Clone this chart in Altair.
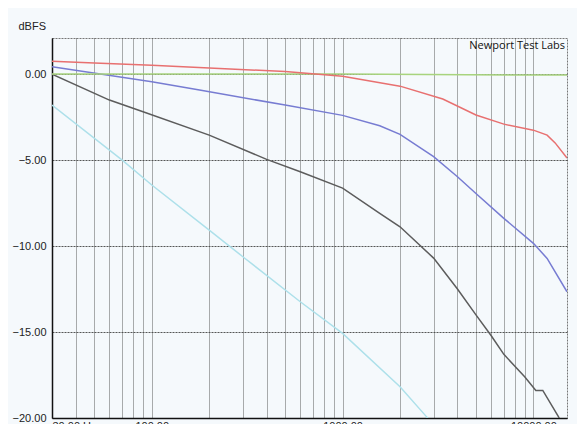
import altair as alt
import pandas as pd

# ---- data ----
red_f = [30, 50, 100, 200, 500, 1000, 2000, 3350, 5000, 7000, 10000, 11800, 13000, 15000]
red_db = [0.75, 0.64, 0.52, 0.35, 0.15, -0.12, -0.7, -1.45, -2.38, -2.91, -3.26, -3.55, -4.0, -4.88]

blue_f = [30, 100, 178, 500, 1000, 1566, 2000, 3000, 4000, 5000, 7000, 10000, 11800, 15000]
blue_db = [0.43, -0.45, -0.93, -1.8, -2.4, -3.0, -3.5, -4.8, -5.97, -6.94, -8.39, -9.84, -10.72, -12.66]

green_f = [30, 1000, 8000, 15000]
green_db = [0.0, 0.0, -0.05, -0.05]

black_f = [30, 60, 90, 200, 400, 600, 1000, 1566, 2000, 3000, 4000, 5000, 6000, 7000, 9000, 10300, 11200, 13500, 14200]
black_db = [0.0, -1.51, -2.19, -3.55, -4.96, -5.68, -6.63, -8.1, -8.88, -10.7, -12.5, -14.0, -15.2, -16.3, -17.6, -18.4, -18.4, -19.9, -20.4]

cyan_f = [30, 70, 100, 200, 300, 600, 1000, 2000, 2750, 3000]
cyan_db = [-1.8, -5.0, -6.45, -9.07, -10.62, -13.24, -15.08, -18.18, -19.92, -20.4]

series_names = ["cyan", "black", "blue", "green", "red"]
series_colors = ["#ade0ea", "#5c5c5c", "#777cd2", "#a8d47e", "#e87070"]

x_grid_values = [30, 40, 50, 60, 70, 80, 90,
                 100, 200, 300, 400, 500, 600, 700, 800, 900,
                 1000, 2000, 3000, 4000, 5000, 6000, 7000, 8000, 9000, 10000]
y_tick_values = [0, -5, -10, -15, -20]

rows = []
for name, fs, ds in [("cyan", cyan_f, cyan_db), ("black", black_f, black_db),
                     ("blue", blue_f, blue_db), ("green", green_f, green_db),
                     ("red", red_f, red_db)]:
    for i, (f, d) in enumerate(zip(fs, ds)):
        rows.append({"series": name, "freq": f, "db": d, "i": i})
df = pd.DataFrame(rows)

label_expr = ("datum.value == 30 ? '30.00 Hz' : "
              "(datum.value == 100 || datum.value == 1000 || datum.value == 10000) ? "
              "format(datum.value, '.2f') : ''")

chart = alt.Chart(df).mark_line(strokeWidth=1.5, clip=True).encode(
    x=alt.X("freq:Q",
            scale=alt.Scale(type="log", domain=[30, 15000], nice=False),
            axis=alt.Axis(values=x_grid_values, labelExpr=label_expr, title=None,
                          grid=True, ticks=False, labelFlush=True,
                          labelPadding=2, labelFontSize=11, labelColor="#222",
                          labelFont="Liberation Sans",
                          domainColor="#111", domainWidth=1.5,
                          gridColor="#4a4a4a", gridDash=[1, 1], gridOpacity=0.9)),
    y=alt.Y("db:Q",
            scale=alt.Scale(domain=[-20, 2.1], nice=False, zero=False),
            axis=alt.Axis(values=y_tick_values, format=".2f", title="dBFS",
                          titleAngle=0, titleX=-34, titleY=-12, titleAlign="left",
                          titleBaseline="middle", titleFont="Liberation Sans",
                          titleFontSize=11, titleFontWeight="normal", titleColor="#222",
                          grid=True, ticks=False, labelPadding=6, labelFontSize=11,
                          labelColor="#222", labelFont="Liberation Sans",
                          domainColor="#111", domainWidth=1.5,
                          gridColor="#444", gridDash=[2, 1], gridOpacity=0.9)),
    color=alt.Color("series:N", scale=alt.Scale(domain=series_names, range=series_colors),
                    legend=None),
    order=alt.Order("i:Q"),
    detail="series:N",
).properties(
    width=515,
    height=380,
    autosize=alt.AutoSizeParams(type="none"),
    padding={"left": 44, "top": 30, "right": 10, "bottom": 14},
    title=alt.TitleParams("Newport Test Labs", anchor="end", orient="top", frame="group",
                          offset=-31, dx=-2, fontSize=11, fontWeight="normal",
                          font="Open Sans", color="#111"),
).configure(
    background="#f5f9fc",
).configure_view(
    stroke="#777", strokeDash=[2, 1], strokeWidth=1,
)

chart.save("out.html", embed_options={"renderer": "svg", "actions": False})
